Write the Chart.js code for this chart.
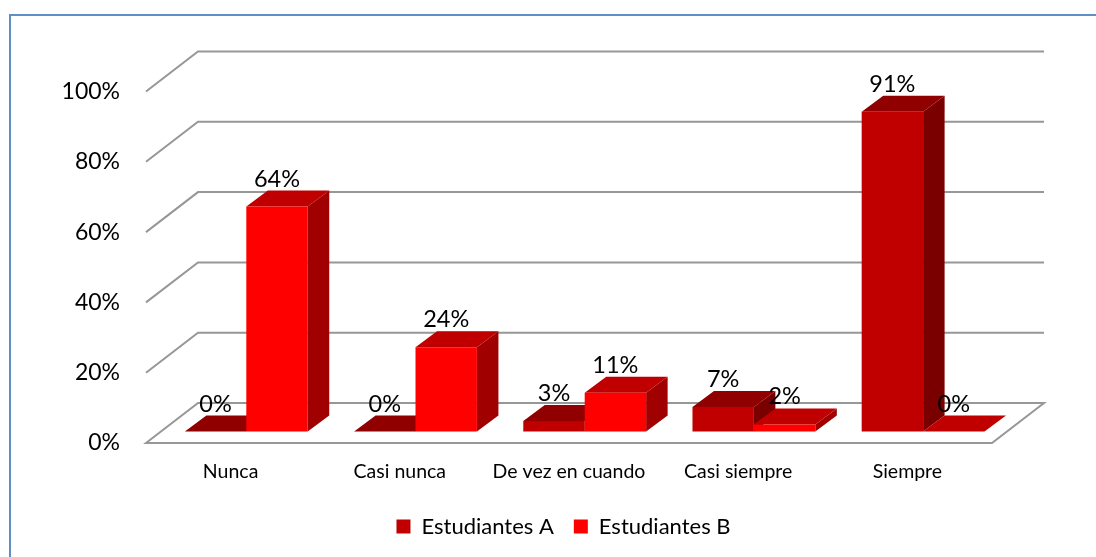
<!DOCTYPE html>
<html>
<head>
<meta charset="utf-8">
<style>
  html, body { margin: 0; padding: 0; background: #fff; overflow: hidden; }
  #wrap { position: relative; width: 1096px; height: 557px; overflow: hidden; }
  #frame { position: absolute; left: 9px; top: 14px; width: 1200px; height: 700px; border: 2px solid #5f8fc6; box-sizing: border-box; }
  canvas { position: absolute; left: 0; top: 0; }
</style>
<script src="https://cdn.jsdelivr.net/npm/chart.js@4"></script>
</head>
<body>
<div id="wrap">
  <div id="frame"></div>
  <canvas id="c" width="1096" height="557"></canvas>
</div>
<script>
const categories = ['Nunca', 'Casi nunca', 'De vez en cuando', 'Casi siempre', 'Siempre'];
const estudiantesA = [0, 0, 3, 7, 91];
const estudiantesB = [64, 24, 11, 2, 0];
const yTicks = [0, 20, 40, 60, 80, 100];

const FONT = 'Lato, "Open Sans", sans-serif';
const GRID = '#979797';
const WALL = { dx: 52, dy: -40 };          // floor depth of the plot box
const BAR_SHIFT = { dx: 15.7, dy: -11.5 }; // columns stand inside the floor
const BAR_DEPTH = { dx: 21.5, dy: -16 };   // extrusion of each column

const faces = [
  { front: '#c00000', top: '#900000', side: '#7a0000' },
  { front: '#ff0000', top: '#c00000', side: '#a00000' }
];

function poly(ctx, pts, fill) {
  ctx.beginPath();
  pts.forEach((p, i) => i ? ctx.lineTo(p[0], p[1]) : ctx.moveTo(p[0], p[1]));
  ctx.closePath();
  ctx.fillStyle = fill;
  ctx.fill();
}

// Back wall lines, side wall diagonals and the floor outline
const boxGrid = {
  id: 'boxGrid',
  beforeDatasetsDraw(chart) {
    const { ctx, chartArea: a, scales: { y } } = chart;
    ctx.save();
    ctx.strokeStyle = GRID;
    ctx.lineWidth = 2;
    yTicks.forEach(v => {
      const py = y.getPixelForValue(v);
      ctx.beginPath();
      ctx.moveTo(a.left, py);
      ctx.lineTo(a.left + WALL.dx, py + WALL.dy);
      ctx.lineTo(a.right + WALL.dx, py + WALL.dy);
      if (v === 0) {
        ctx.lineTo(a.right, py);
        ctx.closePath();
      }
      ctx.stroke();
    });
    ctx.restore();
  }
};

// Shifts the columns into the box, adds their top and side faces, prints values
const columns3d = {
  id: 'columns3d',
  afterLayout(chart) {
    // legend sits slightly left of the plot centre
    chart.legend.left -= 5.5;
    chart.legend.right -= 5.5;
  },
  beforeDatasetsDraw(chart) {
    const { ctx } = chart;
    ctx.save();
    ctx.translate(BAR_SHIFT.dx, BAR_SHIFT.dy);
    chart.data.datasets.forEach((ds, i) => {
      const c = faces[i];
      chart.getDatasetMeta(i).data.forEach(bar => {
        const p = bar.getProps(['x', 'y', 'base', 'width']);
        const l = p.x - p.width / 2, r = p.x + p.width / 2;
        const dx = BAR_DEPTH.dx, dy = BAR_DEPTH.dy;
        poly(ctx, [[r, p.y], [r + dx, p.y + dy], [r + dx, p.base + dy], [r, p.base]], c.side);
        poly(ctx, [[l, p.y], [l + dx, p.y + dy], [r + dx, p.y + dy], [r, p.y]], c.top);
      });
    });
    ctx.restore();
  },
  beforeDatasetDraw(chart) {
    chart.ctx.save();
    chart.ctx.translate(BAR_SHIFT.dx, BAR_SHIFT.dy);
  },
  afterDatasetDraw(chart) {
    chart.ctx.restore();
  },
  afterDatasetsDraw(chart) {
    const { ctx } = chart;
    ctx.save();
    ctx.fillStyle = '#000';
    ctx.font = '23.5px ' + FONT;
    ctx.textAlign = 'center';
    ctx.textBaseline = 'alphabetic';
    chart.data.datasets.forEach((ds, i) => {
      chart.getDatasetMeta(i).data.forEach((bar, j) => {
        const x = bar.x + BAR_SHIFT.dx;
        const y = bar.y + BAR_SHIFT.dy + BAR_DEPTH.dy - 4;
        ctx.fillText(ds.data[j] + '%', x, y);
      });
    });
    ctx.restore();
  }
};

new Chart(document.getElementById('c'), {
  type: 'bar',
  data: {
    labels: categories,
    datasets: [
      { label: 'Estudiantes A', data: estudiantesA, backgroundColor: faces[0].front, clip: false },
      { label: 'Estudiantes B', data: estudiantesB, backgroundColor: faces[1].front, clip: false }
    ]
  },
  options: {
    responsive: false,
    animation: false,
    layout: { padding: { left: 0, right: 104, top: 91.5, bottom: 9.5 } },
    datasets: { bar: { categoryPercentage: 0.726, barPercentage: 1 } },
    plugins: {
      tooltip: { enabled: false },
      legend: {
        position: 'bottom',
        fullSize: false,
        labels: {
          boxWidth: 14, boxHeight: 14, padding: 20, color: '#000',
          font: { family: FONT, size: 22 }
        }
      }
    },
    scales: {
      x: {
        afterFit(s) { s.height = 52.5; },
        grid: { display: false, drawTicks: false },
        border: { display: false },
        ticks: { color: '#000', font: { family: FONT, size: 19.5 }, padding: 17, maxRotation: 0, autoSkip: false }
      },
      y: {
        min: 0, max: 100,
        afterFit(s) { s.width = 146; },
        afterBuildTicks(s) { s.ticks = yTicks.map(v => ({ value: v })); },
        grid: { display: false, drawTicks: false },
        border: { display: false },
        ticks: {
          color: '#000', padding: 26,
          font: { family: FONT, size: 23 },
          callback: v => v + '%'
        }
      }
    }
  },
  plugins: [boxGrid, columns3d]
});
</script>
</body>
</html>
